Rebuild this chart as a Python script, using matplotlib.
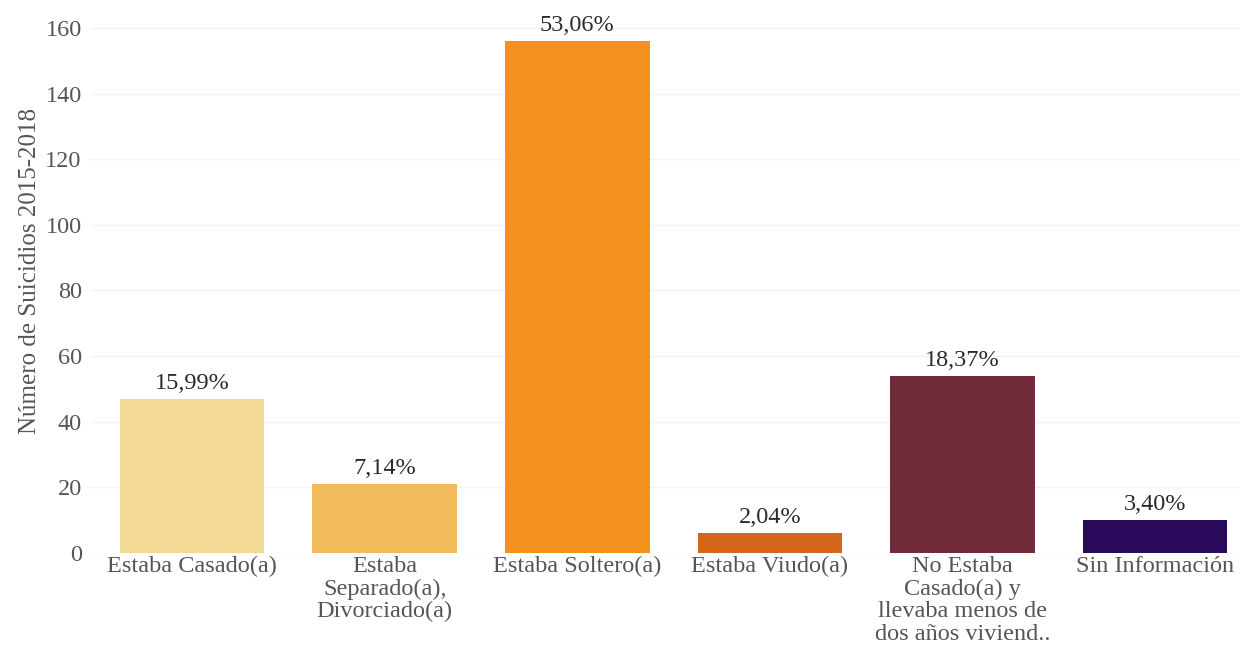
import numpy as np
import matplotlib.pyplot as plt

# estado civil vs numero de suicidios 2015-2018
categorias = ['Estaba Casado(a)',
              'Estaba\nSeparado(a),\nDivorciado(a)',
              'Estaba Soltero(a)',
              'Estaba Viudo(a)',
              'No Estaba\nCasado(a) y\nllevaba menos de\ndos años viviend..',
              'Sin Información']
suicidios = [47, 21, 156, 6, 54, 10]
porcentajes = ['15,99%', '7,14%', '53,06%', '2,04%', '18,37%', '3,40%']
colores = ['#F2DA95', '#F2BC5C', '#F5921F', '#D3661B', '#722B3B', '#2A0B5B']

plt.rcParams['font.family'] = ['Liberation Serif', 'DejaVu Serif']

fig = plt.figure(figsize=(12.43, 6.56), dpi=100)
ax = fig.add_axes([0.0724, 0.157, 0.9252, 0.828])

x = np.arange(len(categorias))
barras = ax.bar(x, suicidios, width=0.75, color=colores, zorder=2)

for b, p in zip(barras, porcentajes):
    ax.text(b.get_x() + b.get_width() / 2, b.get_height() + 1.5, p,
            ha='center', va='bottom', fontsize=17.5, color='#2a2a2a')

ax.set_xlim(-0.53, 5.44)
ax.set_ylim(0, 165.5)
ax.set_yticks(range(0, 161, 20))
ax.set_xticks(x)
ax.set_xticklabels(categorias, fontsize=17.5, color='#555555', linespacing=1.1)
ax.tick_params(axis='y', labelsize=17.5, labelcolor='#555555', length=0, pad=6)
ax.tick_params(axis='x', length=0, pad=2)
ax.set_ylabel('Número de Suicidios 2015-2018', fontsize=18, color='#555555')
ax.yaxis.set_label_coords(-0.043, 0.52)

ax.grid(axis='y', color='#f2f2f2', linewidth=1, zorder=0)
for s in ax.spines.values():
    s.set_visible(False)

fig.savefig('out.png', dpi=100)
